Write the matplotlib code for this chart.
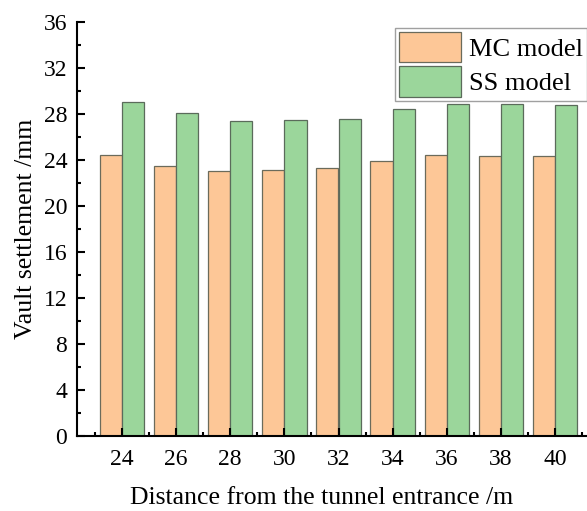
import numpy as np
import matplotlib.pyplot as plt
from matplotlib.ticker import MultipleLocator, FixedLocator

plt.rcParams['font.family'] = ['Liberation Serif', 'DejaVu Serif']

# 数据
distance = ['24', '26', '28', '30', '32', '34', '36', '38', '40']
mc_model = [24.46, 23.45, 23.04, 23.13, 23.33, 23.88, 24.46, 24.38, 24.38]
ss_model = [29.07, 28.06, 27.40, 27.50, 27.60, 28.40, 28.84, 28.84, 28.78]

fig = plt.figure(figsize=(5.87, 5.11), dpi=100)
# 原图右侧被裁掉，坐标轴延伸到画布外
ax = fig.add_axes([77 / 587, 75 / 511, 523 / 587, 414 / 511])

x = np.arange(len(distance))
w = 0.41
ax.bar(x - w / 2, mc_model, w, color='#FDC797', edgecolor='#6b6b5b', linewidth=0.9, label='MC model')
ax.bar(x + w / 2, ss_model, w, color='#9BD69B', edgecolor='#5b6b5b', linewidth=0.9, label='SS model')

ax.set_xlim(-0.83, len(distance) - 1 + 0.83)
ax.set_ylim(0, 36)
ax.set_xticks(x)
ax.set_xticklabels(distance)
ax.xaxis.set_minor_locator(FixedLocator(np.arange(-0.5, len(distance), 1.0)))
ax.yaxis.set_major_locator(MultipleLocator(4))
ax.yaxis.set_minor_locator(MultipleLocator(2))

ax.spines['top'].set_visible(False)
ax.spines['right'].set_visible(False)
ax.spines['left'].set_linewidth(1.5)
ax.spines['bottom'].set_linewidth(1.5)
ax.tick_params(which='major', direction='in', length=6, width=1.5, labelsize=17)
ax.tick_params(axis='x', which='major', pad=9)
ax.tick_params(axis='y', which='major', pad=7)
ax.tick_params(which='minor', direction='in', length=3, width=1.5)

ax.set_xlabel('Distance from the tunnel entrance /m', fontsize=18.5)
ax.set_ylabel('Vault settlement /mm', fontsize=18.5)
ax.xaxis.set_label_coords(0.468, -0.122)
ax.yaxis.set_label_coords(-0.0765, 0.5)

leg = ax.legend(loc='upper left', bbox_to_anchor=(395 / 587, 1 - 28 / 511),
                bbox_transform=fig.transFigure, fontsize=19, frameon=True,
                fancybox=False, edgecolor='#888888', handlelength=2.35, handleheight=1.4,
                labelspacing=0.15, borderpad=0.15, handletextpad=0.3, borderaxespad=0)
leg.get_frame().set_linewidth(1.0)

fig.savefig('out.png', dpi=100)
